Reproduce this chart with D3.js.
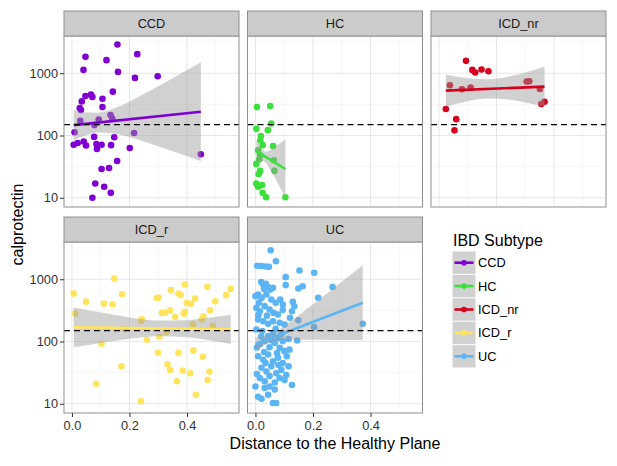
<!DOCTYPE html>
<html><head><meta charset="utf-8">
<script src="https://cdn.jsdelivr.net/npm/d3@7"></script>
<style>body{margin:0;background:#fff;} text{font-family:"Liberation Sans",Arial,sans-serif;}</style>
</head><body>
<script>
// ---------- DATA ----------
const groups = ["CCD", "HC", "ICD_nr", "ICD_r", "UC"];
const groupColors = ["#8000D4", "#3BE03B", "#D7001C", "#FFE45C", "#5BB5F5"];
const xTicks = [0, 0.2, 0.4];
const yTicks = [10, 100, 1000];
const thresholdValue = 150;
const xTitle = "Distance to the Healthy Plane";
const yTitle = "calprotectin";
const legendTitle = "IBD Subtype";

const ccdPoints = [[0.158,2897],[0.047,1832],[0.227,2024],[0.12,1622],[0.040,1132],[0.160,1051],[0.219,841],[0.298,895],
 [0.142,506],[0.047,430],[0.066,453],[0.071,415],[0.034,353],[0.106,390],[0.027,276],[0.031,256],[0.106,286],[0.134,213],
 [0.140,188],[0.029,173],[0.093,181],[0.078,147],[0.009,113],[0.077,95],[0.147,94],[0.216,110],[0.006,71],[0.020,76],
 [0.041,80],[0.049,69],[0.085,73],[0.103,71],[0.087,61],[0.136,70],[0.201,63],[0.448,50],[0.157,39],[0.103,29],
 [0.129,30],[0.081,17],[0.112,15],[0.135,12],[0.071,10]];
const hcPoints = [[0.005,286],[0.051,297],[0.055,156],[0.003,128],[0.043,122],[0.019,98],[0.017,84],[0.025,70],[0.061,68],
 [0.009,58],[0.016,48],[0.013,41],[0.003,35],[0.064,40],[0.066,27],[0.016,27],[0.011,24],[0.003,17],[0.023,16],[0.009,15],
 [0.025,12],[0.037,10.2],[0.104,10.2]];
const icdNrPoints = [[0.094,1581],[0.116,1132],[0.126,1025],[0.148,1146],[0.172,1077],[0.038,640],[0.080,552],[0.110,587],
 [0.305,735],[0.314,743],[0.351,558],[0.356,320],[0.367,349],[0.024,266],[0.060,183],[0.054,121]];
const icdRPoints = [[0.006,588],[0.011,281],[0.049,437],[0.111,406],[0.141,397],[0.147,1025],[0.174,574],[0.103,92],[0.172,40],
 [0.084,21],[0.240,11],[0.184,157],[0.243,227],[0.24,215],[0.393,824],[0.344,668],[0.471,755],[0.552,701],[0.295,501],[0.301,510],
 [0.370,589],[0.378,556],[0.428,491],[0.536,555],[0.498,444],[0.399,417],[0.414,403],[0.3125,288],[0.324,290],[0.341,318],
 [0.359,249],[0.388,278],[0.393,299],[0.48,318],[0.457,255],[0.451,226],[0.26,107],[0.304,119],[0.327,141],[0.299,66],
 [0.37,66],[0.422,72],[0.455,57],[0.332,43],[0.341,35],[0.385,34],[0.411,31],[0.478,33],[0.472,24],[0.365,23],[0.431,14],
 [0.49,177],[0.42,189]];
const ucPoints = [[0.053,2926],[0.071,1950],[0.006,1650],[0.021,1630],[0.036,1600],[0.047,1580],[0.105,1080],[0.153,1380],
 [0.204,1270],[0.105,805],[0.149,710],[0.164,770],[0.268,750],[0.218,505],[0.027,824],[0.036,843],[0.044,746],[0.052,685],
 [0.061,728],[0.02,900],[0.03,700],[0.0,535],[0.009,569],[0.021,502],[0.038,569],[0.055,473],[0.070,418],[0.086,473],
 [0.095,394],[0.003,347],[0.015,307],[0.032,370],[0.049,327],[0.063,288],[0.078,272],[0.009,226],[0.027,212],[0.044,192],
 [0.061,212],[0.084,200],[0.101,188],[0.127,307],[0.130,433],[0.135,369],[0.149,220],[0.204,170],[0.373,192],[0.003,156],
 [0.024,147],[0.044,122],[0.061,137],[0.078,114],[0.095,101],[0.145,104],[0.015,90],[0.032,101],[0.049,81],[0.067,95],
 [0.084,79],[0.101,70],[0.118,74],[0.009,58],[0.027,51],[0.044,62],[0.061,48],[0.078,55],[0.095,45],[0.109,58],[0.021,38],
 [0.038,33],[0.055,40],[0.072,31],[0.090,35],[0.107,29],[0.015,26],[0.032,23],[0.049,28],[0.067,22],[0.084,26],[0.101,24],
 [0.032,18],[0.049,19],[0.067,17],[0.127,20],[0.0,19],[0.009,13],[0.021,12],[0.044,14],[0.061,10.3],[0.072,10.3],
 [0.012,420],[0.04,260],[0.07,160],[0.02,120],[0.055,105],[0.09,130],[0.005,80],[0.03,68],[0.075,65],[0.115,110],
 [0.12,240],[0.095,320],[0.01,265],[0.035,45],[0.08,42],[0.005,30],[0.115,40]];

// fitted line ends [x, value] and confidence band [x, lower, upper]
const ccdFit = [[0.006,147],[0.448,241]];
const ccdBand = [[0.006,84,257],[0.05,101,234],[0.09,112,233],[0.15,107,277],[0.25,80,466],[0.35,56,832],[0.448,39,1496]];
const hcFit = [[0.003,56],[0.104,29]];
const hcBand = [[0.003,36,85.5],[0.02,39.5,63],[0.035,37,55],[0.05,29,58],[0.07,20,67],[0.09,13.2,78],[0.104,10,88]];
const icdNrFit = [[0.024,525],[0.367,610]];
const icdNrBand = [[0.024,290,951],[0.1,355,828],[0.17,392,800],[0.24,378,881],[0.3,340,1030],[0.367,292,1274]];
const icdRFit = [[0.006,169],[0.552,157]];
const icdRBand = [[0.006,81,353],[0.1,95,292],[0.2,111,244],[0.3,122,217],[0.4,117,220],[0.48,104,242],[0.552,91,270]];
const ucFit = [[0.0,91],[0.373,420]];
const ucBand = [[0.0,72,117],[0.05,97,128],[0.1,106,177],[0.15,108,262],[0.2,107,395],[0.25,107,596],[0.3,106,910],[0.373,106,1679]];

const allPoints = [ccdPoints, hcPoints, icdNrPoints, icdRPoints, ucPoints];
const allFits = [ccdFit, hcFit, icdNrFit, icdRFit, ucFit];
const allBands = [ccdBand, hcBand, icdNrBand, icdRBand, ucBand];

// ---------- LAYOUT ----------
const W = 617, H = 466;
const panelW = 175, panelH = 171, stripH = 25;
const colX = [64, 247.5, 431];
const rowY = [36, 242];

const svg = d3.select("body").append("svg").attr("width", W).attr("height", H);
svg.append("rect").attr("width", W).attr("height", H).attr("fill", "#fff");

const x = d3.scaleLinear().domain([-0.0277, 0.5807]).range([0, panelW]);
const y = d3.scaleLog().domain([Math.pow(10, 0.852), Math.pow(10, 3.598)]).range([panelH, 0]);
const xMinor = [0.1, 0.3, 0.5];
const yMinor = [Math.pow(10,1.5), Math.pow(10,2.5), Math.pow(10,3.5)];

const area = d3.area().x(d => x(d[0])).y0(d => y(d[1])).y1(d => y(d[2])).curve(d3.curveMonotoneX);
const line = d3.line().x(d => x(d[0])).y(d => y(d[1]));

groups.forEach((g, i) => {
  const col = i % 3, row = Math.floor(i / 3);
  const px = colX[col], py = rowY[row];
  const color = groupColors[i];
  const p = svg.append("g").attr("transform", `translate(${px},${py})`);
  const clipId = "clip" + i;
  p.append("clipPath").attr("id", clipId).append("rect").attr("width", panelW).attr("height", panelH);
  p.append("rect").attr("width", panelW).attr("height", panelH).attr("fill", "#fff");
  const grid = p.append("g");
  grid.selectAll(".xm").data(xMinor).join("line").attr("x1", d => x(d)).attr("x2", d => x(d))
    .attr("y1", 0).attr("y2", panelH).attr("stroke", "#F2F2F2").attr("stroke-width", 0.6);
  grid.selectAll(".ym").data(yMinor).join("line").attr("y1", d => y(d)).attr("y2", d => y(d))
    .attr("x1", 0).attr("x2", panelW).attr("stroke", "#F2F2F2").attr("stroke-width", 0.6);
  grid.selectAll(".xM").data(xTicks).join("line").attr("x1", d => x(d)).attr("x2", d => x(d))
    .attr("y1", 0).attr("y2", panelH).attr("stroke", "#E4E4E4").attr("stroke-width", 0.9);
  grid.selectAll(".yM").data(yTicks).join("line").attr("y1", d => y(d)).attr("y2", d => y(d))
    .attr("x1", 0).attr("x2", panelW).attr("stroke", "#E4E4E4").attr("stroke-width", 0.9);

  const c = p.append("g").attr("clip-path", `url(#${clipId})`);
  c.selectAll("circle").data(allPoints[i]).join("circle")
    .attr("cx", d => x(d[0])).attr("cy", d => y(d[1])).attr("r", 3.3).attr("fill", color);
  c.append("path").datum(allBands[i]).attr("d", area).attr("fill", "#999999").attr("fill-opacity", 0.45);
  c.append("path").datum(allFits[i]).attr("d", line).attr("fill", "none").attr("stroke", color).attr("stroke-width", 2.6);
  c.append("line").attr("x1", 0).attr("x2", panelW).attr("y1", y(thresholdValue)).attr("y2", y(thresholdValue))
    .attr("stroke", "#000").attr("stroke-width", 1.3).attr("stroke-dasharray", "6,4");

  p.append("rect").attr("width", panelW).attr("height", panelH).attr("fill", "none").attr("stroke", "#8F8F8F").attr("stroke-width", 1);

  // strip
  p.append("rect").attr("y", -stripH).attr("width", panelW).attr("height", stripH)
    .attr("fill", "#CBCBCB").attr("stroke", "#8F8F8F").attr("stroke-width", 1);
  p.append("text").attr("x", panelW / 2).attr("y", -stripH / 2).attr("dy", "0.36em")
    .attr("text-anchor", "middle").attr("font-size", 12.8).attr("fill", "#1A1A1A").text(g);

  if (col === 0) {
    const ya = p.append("g").call(d3.axisLeft(y).tickValues(yTicks).tickFormat(d3.format("d")).tickSize(4).tickPadding(2));
    ya.select(".domain").remove();
    ya.selectAll("line").attr("stroke", "#333");
    ya.selectAll("text").attr("font-size", 12.8).attr("fill", "#333").attr("font-family", "Liberation Sans, Arial, sans-serif");
  }
  if (row === 1) {
    const xa = p.append("g").attr("transform", `translate(0,${panelH})`)
      .call(d3.axisBottom(x).tickValues(xTicks).tickFormat(d3.format(".1f")).tickSize(4).tickPadding(4));
    xa.select(".domain").remove();
    xa.selectAll("line").attr("stroke", "#333");
    xa.selectAll("text").attr("font-size", 12.8).attr("fill", "#333").attr("font-family", "Liberation Sans, Arial, sans-serif");
  }
});

// axis titles
svg.append("text").attr("x", 335).attr("y", 449).attr("text-anchor", "middle").attr("font-size", 16).attr("fill", "#000").text(xTitle);
svg.append("text").attr("transform", "translate(22.5,224.5) rotate(-90)").attr("text-anchor", "middle")
  .attr("font-size", 16).attr("fill", "#000").text(yTitle);

// legend
const lg = svg.append("g").attr("transform", "translate(452,251)");
lg.append("text").attr("x", 1).attr("y", -5).attr("font-size", 16).attr("fill", "#000").text(legendTitle);
const keyH = 23.4, keyW = 24;
groups.forEach((g, i) => {
  const k = lg.append("g").attr("transform", `translate(0,${i * keyH})`);
  k.append("rect").attr("width", keyW).attr("height", keyH).attr("fill", "#fff");
  k.append("rect").attr("x", 0.5).attr("y", 0.5).attr("width", keyW - 1).attr("height", keyH - 1)
    .attr("fill", "#999999").attr("fill-opacity", 0.45);
  k.append("line").attr("x1", 2.5).attr("x2", keyW - 2.5).attr("y1", keyH / 2).attr("y2", keyH / 2)
    .attr("stroke", groupColors[i]).attr("stroke-width", 2.6);
  k.append("circle").attr("cx", keyW / 2).attr("cy", keyH / 2).attr("r", 2.8).attr("fill", groupColors[i]);
  k.append("text").attr("x", keyW + 2).attr("y", keyH / 2).attr("dy", "0.36em").attr("font-size", 12.8)
    .attr("fill", "#000").text(g);
});
</script>
</body></html>
